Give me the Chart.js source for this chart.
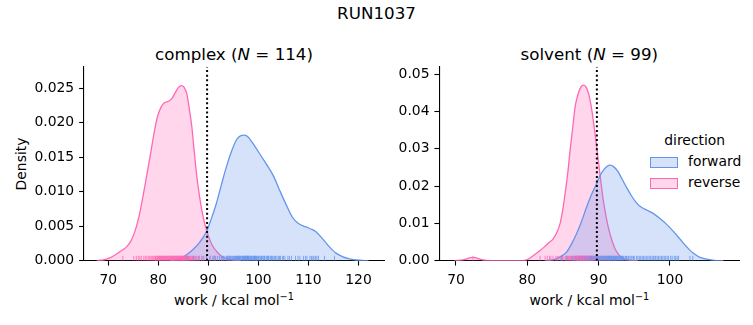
<!DOCTYPE html>
<html><head><meta charset="utf-8">
<script src="https://cdn.jsdelivr.net/npm/chart.js@4/dist/chart.umd.min.js"></script>
<style>
html,body{margin:0;padding:0;background:#fff;}
body{width:753px;height:325px;position:relative;overflow:hidden;font-family:"DejaVu Sans",sans-serif;color:#000;}
.t{position:absolute;transform:translate(-50%,-50%);white-space:nowrap;line-height:1;}
canvas{position:absolute;}
.leg{position:absolute;font-size:13.9px;line-height:1;white-space:nowrap;}
.patch{position:absolute;width:26px;height:9px;}
sup{font-size:70%;vertical-align:0;position:relative;top:-0.5em;}
</style>
</head><body>
<div class="t" style="left:376.5px;top:13px;font-size:16.7px;">RUN1037</div>
<div class="t" style="left:234px;top:54px;font-size:16.7px;">complex (<i>N</i> = 114)</div>
<div class="t" style="left:589.3px;top:54px;font-size:16.7px;">solvent (<i>N</i> = 99)</div>
<div class="t" style="left:234px;top:301px;font-size:13.9px;">work / kcal mol<sup>−1</sup></div>
<div class="t" style="left:589.3px;top:301px;font-size:13.9px;">work / kcal mol<sup>−1</sup></div>
<div class="t" style="left:21.7px;top:164px;font-size:13.9px;transform:translate(-50%,-50%) rotate(-90deg);">Density</div>

<div class="leg" style="left:694.7px;top:141px;transform:translate(-50%,-50%);">direction</div>
<div class="patch" style="left:650px;top:157px;background:rgba(100,149,237,0.27);border:1px solid #6495ED;"></div>
<div class="leg" style="left:688px;top:161.5px;transform:translateY(-50%);">forward</div>
<div class="patch" style="left:650px;top:178px;background:rgba(255,105,180,0.27);border:1px solid #FF69B4;"></div>
<div class="leg" style="left:688px;top:182.5px;transform:translateY(-50%);">reverse</div>

<canvas id="cL" width="390" height="265" style="left:0;top:60px;width:390px;height:265px;"></canvas>
<canvas id="cR" width="363" height="265" style="left:390px;top:60px;width:363px;height:265px;"></canvas>
<script>
// ---- axis ticks ----
const xTicksL = [70, 80, 90, 100, 110, 120];
const yTicksL = [0, 0.005, 0.010, 0.015, 0.020, 0.025];
const yLabelsL = ['0.000', '0.005', '0.010', '0.015', '0.020', '0.025'];
const xRangeL = [65.15, 125.1];
const yRangeL = [0, 0.02813];

const xTicksR = [70, 80, 90, 100];
const yTicksR = [0, 0.01, 0.02, 0.03, 0.04, 0.05];
const yLabelsR = ['0.00', '0.01', '0.02', '0.03', '0.04', '0.05'];
const xRangeR = [67.66, 109.72];
const yRangeR = [0, 0.05196];

// ---- vertical reference line (work value) ----
const refLineL = 89.75;
const refLineR = 89.75;

// ---- KDE curves: [work, density] ----
const complexReverse = [[67.7,0],[69,0.0001],[70.3,0.0004],[71.5,0.0009],[72.5,0.0014],[73.5,0.0019],[74.4,0.0027],[75.2,0.0040],[76,0.0060],[76.8,0.0088],[77.6,0.0120],[78.4,0.0153],[79.1,0.0183],[79.8,0.0208],[80.5,0.0222],[81.2,0.0229],[82,0.0231],[82.7,0.0235],[83.4,0.0244],[84,0.0251],[84.6,0.0254],[85.1,0.0252],[85.7,0.0242],[86.2,0.0220],[86.7,0.0194],[87.2,0.0157],[87.7,0.0122],[88.2,0.0095],[88.7,0.0073],[89.3,0.0053],[90,0.0036],[90.8,0.0022],[91.7,0.0013],[92.7,0.0006],[93.7,0.0003],[95,0.0001],[96.5,0]];
const complexForward = [[82.5,0],[84.3,0.0003],[85.5,0.0008],[86.9,0.0016],[88.3,0.0027],[89.6,0.0042],[90.6,0.0061],[91.6,0.0083],[92.6,0.0110],[93.6,0.0136],[94.6,0.0158],[95.6,0.0175],[96.4,0.0181],[97.2,0.0182],[98,0.0179],[98.9,0.0170],[100,0.0158],[101.5,0.0141],[103,0.0123],[104.2,0.0103],[105.5,0.0082],[106.8,0.0063],[108,0.0054],[109.5,0.0049],[110.5,0.0046],[111.5,0.0042],[112.8,0.0032],[114.2,0.0020],[115.5,0.0011],[116.8,0.0006],[118,0.0003],[119.5,0.0001],[122,0]];
const solventReverse = [[69.8,0],[71,0.0002],[72.4,0.0009],[73.7,0.0002],[75,0],[79.4,0],[80.3,0.0006],[81,0.0016],[81.7,0.0026],[82.4,0.0037],[83,0.0048],[83.6,0.0058],[84.1,0.0074],[84.6,0.0100],[85,0.0140],[85.3,0.0180],[85.7,0.0240],[86,0.0296],[86.4,0.0362],[86.7,0.0412],[87.1,0.0445],[87.5,0.0465],[87.9,0.0470],[88.3,0.0463],[88.6,0.0447],[88.9,0.0420],[89.25,0.0376],[89.6,0.0325],[89.95,0.0269],[90.3,0.0214],[90.65,0.0162],[91,0.0122],[91.35,0.0090],[91.8,0.0058],[92.3,0.0032],[92.9,0.0014],[93.5,0.0005],[94.5,0.0001],[95.5,0]];
const solventForward = [[82.5,0],[83.5,0.0002],[84.5,0.0009],[85.5,0.0023],[86.2,0.0045],[86.9,0.0072],[87.6,0.0105],[88.3,0.0143],[89,0.0177],[89.7,0.0206],[90.2,0.0228],[90.7,0.0243],[91.2,0.0253],[91.6,0.0256],[92.1,0.0252],[92.7,0.0239],[93.3,0.0218],[93.9,0.0197],[94.6,0.0174],[95.3,0.0155],[96,0.0143],[96.8,0.0135],[97.7,0.0126],[98.6,0.0113],[99.5,0.0098],[100.5,0.0078],[101.4,0.0058],[102.3,0.0038],[103.2,0.0021],[104.2,0.0009],[105.2,0.0004],[106.2,0.0001],[107.5,0]];

// ---- individual work values (rug), estimated ----
const complexReverseRug = [72.9,75.1,75.6,76.0,76.3,76.6,77.1,77.4,77.7,78.0,78.2,78.5,78.7,78.9,79.0,79.3,79.4,79.5,79.6,79.8,79.9,80.0,80.1,80.2,80.3,80.4,80.5,80.6,80.7,80.8,80.9,81.0,81.1,81.2,81.3,81.4,81.5,81.6,81.7,81.8,81.9,82.0,82.1,82.2,82.3,82.4,82.5,82.6,82.7,82.8,82.85,82.9,83.0,83.1,83.2,83.3,83.4,83.5,83.55,83.6,83.7,83.75,83.8,83.9,84.0,84.1,84.15,84.2,84.3,84.4,84.45,84.5,84.6,84.6,84.7,84.75,84.8,84.9,85.0,85.0,85.1,85.15,85.2,85.3,85.4,85.45,85.5,85.6,85.65,85.7,85.8,85.9,86.0,86.1,86.2,86.3,86.4,86.5,86.7,86.8,87.0,87.2,87.4,87.6,87.9,88.2,88.6,89.1,89.7,90.4,91.3,92.6,94.2,95.5];
const complexForwardRug = [85.8,87.0,88.1,88.9,89.6,90.3,90.9,91.1,91.4,91.8,92.2,92.6,92.9,93.0,93.3,93.6,93.8,93.9,94.1,94.25,94.4,94.6,94.8,95.0,95.1,95.2,95.4,95.6,95.7,95.8,95.9,96.0,96.1,96.2,96.3,96.4,96.5,96.7,96.8,96.9,97.0,97.1,97.2,97.3,97.4,97.5,97.6,97.7,97.8,97.85,97.9,98.0,98.1,98.2,98.4,98.5,98.6,98.7,98.9,99.0,99.1,99.2,99.3,99.4,99.5,99.6,99.7,99.9,100.0,100.1,100.3,100.5,100.6,100.7,100.9,101.1,101.2,101.3,101.6,101.8,101.9,102.0,102.3,102.5,102.6,102.8,103.1,103.3,103.4,103.7,104.0,104.2,104.4,104.8,105.0,105.3,105.9,106.2,106.6,107.4,107.9,108.3,109.0,109.4,109.7,110.3,110.6,110.9,111.1,111.4,111.7,112.0,113.2,115.2];
const solventReverseRug = [72.4,81.8,82.5,82.8,83.1,83.3,83.6,84.0,84.2,84.4,84.7,84.9,85.0,85.3,85.4,85.5,85.7,85.8,85.9,86.0,86.1,86.2,86.3,86.4,86.5,86.6,86.65,86.7,86.8,86.85,86.9,86.95,87.0,87.05,87.1,87.15,87.2,87.22,87.25,87.3,87.35,87.4,87.42,87.45,87.5,87.55,87.6,87.62,87.65,87.7,87.75,87.8,87.85,87.9,87.92,87.95,88.0,88.05,88.1,88.12,88.15,88.2,88.25,88.3,88.35,88.4,88.45,88.5,88.55,88.6,88.65,88.7,88.75,88.8,88.85,88.9,88.95,89.0,89.05,89.1,89.15,89.2,89.3,89.4,89.5,89.6,89.7,89.8,89.9,90.1,90.2,90.3,90.5,90.6,90.9,91.1,91.3,91.8,92.4];
const solventForwardRug = [84.8,85.6,86.3,86.8,87.3,87.7,88.1,88.4,88.7,88.9,89.0,89.2,89.35,89.5,89.6,89.7,89.8,89.9,90.0,90.1,90.2,90.3,90.45,90.5,90.6,90.7,90.8,90.9,91.0,91.1,91.2,91.3,91.4,91.45,91.5,91.55,91.6,91.7,91.8,91.9,92.0,92.1,92.15,92.2,92.3,92.4,92.5,92.6,92.7,92.8,92.9,93.0,93.1,93.2,93.3,93.4,93.5,93.7,93.8,93.9,94.1,94.2,94.4,94.55,94.7,94.9,95.0,95.3,95.5,95.7,95.9,96.1,96.3,96.5,96.7,96.9,97.1,97.3,97.5,97.7,97.9,98.0,98.2,98.4,98.6,98.8,99.0,99.2,99.4,99.6,99.8,100.1,100.3,100.6,100.8,101.0,101.2,102.8,103.2];

const BLUE = '#6495ED', PINK = '#FF69B4';
const BLUE_F = 'rgba(100,149,237,0.27)', PINK_F = 'rgba(255,105,180,0.27)';
const BLUE_R = 'rgba(100,149,237,0.8)', PINK_R = 'rgba(255,105,180,0.8)';

function kdeSet(pts, line, fill) {
  return {type:'line', data: pts.map(p => ({x:p[0], y:p[1]})), borderColor: line, backgroundColor: fill,
    borderWidth: 1.3, fill: 'origin', pointRadius: 0, cubicInterpolationMode: 'monotone', order: 3};
}
function rugSet(vals, col) {
  return {type:'line', showLine:false, yAxisID:'yr', data: vals.map(v => ({x:v, y:0.0125})),
    pointStyle:'line', rotation:90, pointRadius:2.45, pointBorderWidth:1, borderColor:col, pointBorderColor:col, order: 2};
}
function vlineSet(x, yr) {
  return {type:'line', data:[{x:x,y:yr[0]},{x:x,y:yr[1]}], borderColor:'#000', borderWidth:2,
    borderDash:[2,2.6], pointRadius:0, fill:false, order: 1};
}
function noPad(s) { s.paddingTop = 0; s.paddingBottom = 0; s.paddingLeft = 0; s.paddingRight = 0; }

function makeChart(id, sets, xr, yr, xt, yt, yl, yWidth, padRight) {
  const tickFont = {family:'DejaVu Sans', size:13.9};
  new Chart(document.getElementById(id), {
    type:'line',
    data:{datasets: sets},
    options:{
      responsive:false, animation:false, events:[],
      layout:{autoPadding:false, padding:{top:6.7, right:padRight, left:0, bottom:0}},
      plugins:{legend:{display:false}, tooltip:{enabled:false}},
      scales:{
        x:{type:'linear', min:xr[0], max:xr[1],
          afterBuildTicks: s => { s.ticks = xt.map(v => ({value:v})); },
          afterFit: s => { s.height = 265 - 6.7 - 194; noPad(s); },
          ticks:{font:tickFont, color:'#000', padding:6, maxRotation:0, autoSkip:false, callback: v => String(v)},
          grid:{drawOnChartArea:false, drawTicks:true, tickLength:4.9, tickWidth:1.1, color:'#000'},
          border:{display:true, color:'#000', width:1.1}},
        y:{type:'linear', min:yr[0], max:yr[1],
          afterBuildTicks: s => { s.ticks = yt.map(v => ({value:v})); },
          afterFit: s => { s.width = yWidth; noPad(s); },
          ticks:{font:tickFont, color:'#000', padding:4.9, autoSkip:false, callback: (v, i) => yl[i]},
          grid:{drawOnChartArea:false, drawTicks:true, tickLength:4.9, tickWidth:1.1, color:'#000'},
          border:{display:true, color:'#000', width:1.1}},
        yr:{type:'linear', display:false, min:0, max:1}
      }
    }
  });
}

makeChart('cL', [
  kdeSet(complexForward, BLUE, BLUE_F),
  kdeSet(complexReverse, PINK, PINK_F),
  rugSet(complexForwardRug, BLUE_R),
  rugSet(complexReverseRug, PINK_R),
  vlineSet(refLineL, yRangeL)
], xRangeL, yRangeL, xTicksL, yTicksL, yLabelsL, 84, 6);

makeChart('cR', [
  kdeSet(solventForward, BLUE, BLUE_F),
  kdeSet(solventReverse, PINK, PINK_F),
  rugSet(solventForwardRug, BLUE_R),
  rugSet(solventReverseRug, PINK_R),
  vlineSet(refLineR, yRangeR)
], xRangeR, yRangeR, xTicksR, yTicksR, yLabelsR, 49.3, 13.7);
</script>
</body></html>
